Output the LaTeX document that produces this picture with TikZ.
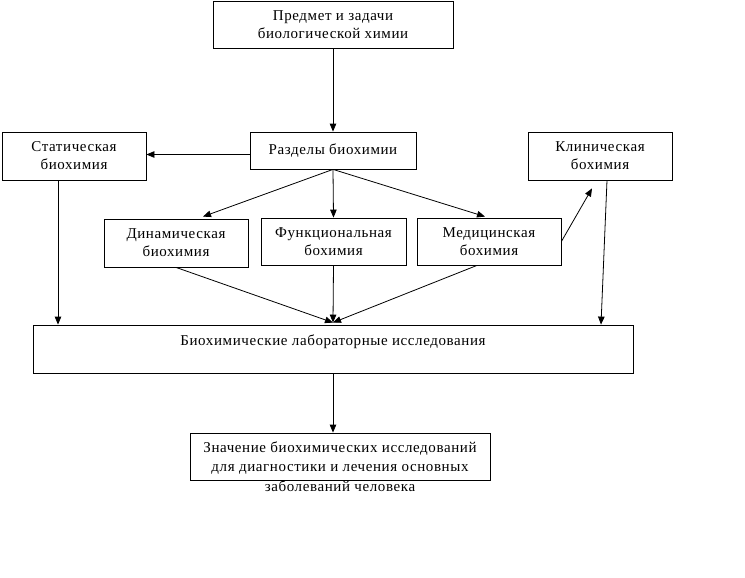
\documentclass[tikz,border=0pt]{standalone}
\usepackage{fontspec}
\setmainfont[LetterSpace=4]{Liberation Serif}
\usetikzlibrary{arrows.meta,calc}
\begin{document}
\begin{tikzpicture}[x=1pt,y=-1pt,
  box/.style={draw,line width=0.8pt,align=center,inner sep=0pt,font=\fontsize{15}{18}\selectfont},
  txt/.style={align=center,inner sep=0pt,font=\fontsize{15}{19.5}\selectfont},
  arr/.style={line width=0.8pt,-{Triangle[length=8pt,width=6.5pt]}}]
\useasboundingbox (0,0) rectangle (745,578);
\node[box,minimum width=240pt,minimum height=47pt] (top) at (333,24.5) {Предмет и задачи\\биологической химии};
\node[box,minimum width=166pt,minimum height=37pt] (razd) at (333,150.5) {Разделы биохимии};
\node[box,minimum width=144pt,minimum height=48pt] (stat) at (74,156) {Статическая\\биохимия};
\node[box,minimum width=144pt,minimum height=48pt] (klin) at (600,156) {Клиническая\\бохимия};
\node[box,minimum width=144pt,minimum height=48pt] (din) at (176,243) {Динамическая\\биохимия};
\node[box,minimum width=145pt,minimum height=47pt] (func) at (333.5,241.5) {Функциональная\\бохимия};
\node[box,minimum width=144pt,minimum height=47pt] (med) at (489,241.5) {Медицинская\\бохимия};
\node[box,minimum width=600pt,minimum height=48pt] (lab) at (333,349) {Биохимические лабораторные исследования\\\mbox{}};
\node[box,minimum width=300pt,minimum height=47pt] (zn) at (340,456.5) {};
\node[txt] (zt) at (340,466.5) {Значение биохимических исследований\\для диагностики и лечения основных\\заболеваний человека};
\coordinate (s1) at ($(stat.south)+(-16,0)$);
\coordinate (k1) at ($(klin.south)+(7,0)$);
\coordinate (r1) at ($(razd.west)+(0,4)$);
\coordinate (conv) at ($(lab.north)+(0,-2)$);
\draw[arr] (top) -- (razd);
\draw[arr] (r1) -- (r1 -| stat.east);
\draw[arr] (razd.south) -- ($(din.north)+(27,-2)$);
\draw[arr] (razd.south) -- (func.north);
\draw[arr] (razd.south) -- ($(med.north)+(-4,-1)$);
\draw[arr] (med.east) -- ($(klin.south)+(-8,8)$);
\draw[arr] (k1) -- ($(lab.north)+(268,0)$);
\draw[arr] (s1) -- (s1 |- lab.north);
\draw[arr] (din.south) -- (conv);
\draw[arr] (func.south) -- (conv);
\draw[arr] ($(med.south)+(-12,0)$) -- (conv);
\draw[arr] (lab.south) -- (lab.south |- zn.north);
\end{tikzpicture}
\end{document}
